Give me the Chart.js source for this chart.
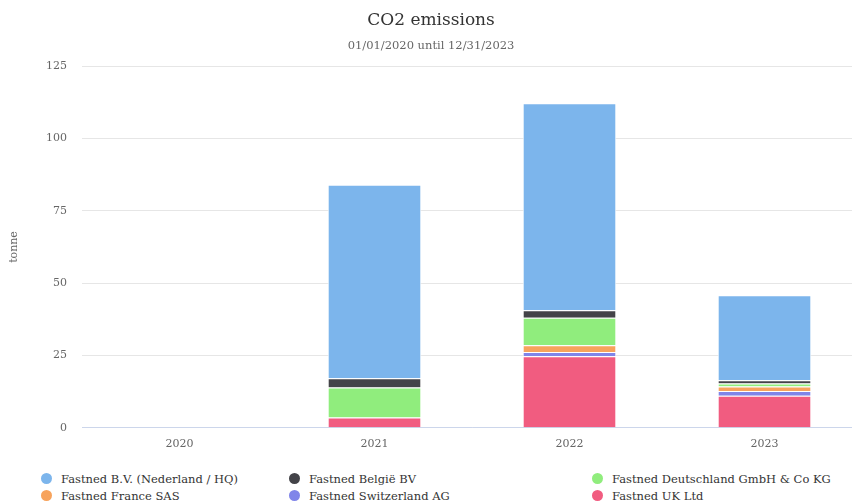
<!DOCTYPE html>
<html>
<head>
<meta charset="utf-8">
<script src="https://cdn.jsdelivr.net/npm/chart.js@4.4.0/dist/chart.umd.min.js"></script>
<style>
    html, body { margin: 0; padding: 0; background: #fff; overflow: hidden; }
    #wrap { position: relative; width: 886px; height: 503px; }
    #chartBox { position: absolute; left: 0; top: 0; width: 886px; height: 471px; }
    #legend { position: absolute; left: 0; top: 471px; width: 886px; font-family: 'DejaVu Serif', Georgia, serif; font-size: 11.5px; color: #333; }
    .item { position: absolute; white-space: nowrap; line-height: 17px; }
    .dot { display: inline-block; width: 11px; height: 11px; border-radius: 50%; margin-right: 9px; vertical-align: -1px; }
</style>
</head>
<body>
<div id="wrap">
    <div id="chartBox"><canvas id="co2Chart"></canvas></div>
    <div id="legend"></div>
</div>
<script>
// 年份
const years = ['2020', '2021', '2022', '2023'];

// 各公司排放量 (tonne)
const nederland = [0, 66.9, 71.6, 29.4];
const belgie = [0, 3.2, 2.6, 1.1];
const deutschland = [0, 10.3, 9.5, 1.0];
const france = [0, 0, 2.3, 1.6];
const switzerland = [0, 0, 1.5, 1.6];
const uk = [0, 3.6, 24.7, 11.1];

const yTicks = [0, 25, 50, 75, 100, 125];

const serif = "'DejaVu Serif', Georgia, serif";

// 从下往上堆叠
const datasets = [
    { label: 'Fastned UK Ltd', data: uk, backgroundColor: '#f15c80' },
    { label: 'Fastned Switzerland AG', data: switzerland, backgroundColor: '#8085e9' },
    { label: 'Fastned France SAS', data: france, backgroundColor: '#f7a35c' },
    { label: 'Fastned Deutschland GmbH & Co KG', data: deutschland, backgroundColor: '#90ed7d' },
    { label: 'Fastned België BV', data: belgie, backgroundColor: '#434348' },
    { label: 'Fastned B.V. (Nederland / HQ)', data: nederland, backgroundColor: '#7cb5ec' }
];
datasets.forEach(ds => {
    ds.borderColor = '#ffffff';
    ds.borderWidth = 1;
    ds.barPercentage = 1;
    ds.categoryPercentage = 0.48;
});

const chart = new Chart(document.getElementById('co2Chart'), {
    type: 'bar',
    data: { labels: years, datasets: datasets },
    options: {
        responsive: true,
        maintainAspectRatio: false,
        animation: false,
        layout: { padding: { left: 0, right: 24, bottom: 10 } },
        plugins: {
            legend: { display: false },
            tooltip: { enabled: false },
            title: {
                display: true,
                text: 'CO2 emissions',
                color: '#333333',
                font: { family: serif, size: 17, weight: 'normal' },
                padding: { top: 10, bottom: 9 }
            },
            subtitle: {
                display: true,
                text: '01/01/2020 until 12/31/2023',
                color: '#666666',
                font: { family: serif, size: 11.5, weight: 'normal' },
                padding: { top: 0, bottom: 13 }
            }
        },
        scales: {
            x: {
                stacked: true,
                grid: { display: false, drawTicks: false },
                border: { display: true, color: '#ccd6eb' },
                ticks: { color: '#666666', font: { family: serif, size: 11 }, padding: 10 }
            },
            y: {
                stacked: true,
                min: 0,
                max: 125,
                afterBuildTicks: scale => { scale.ticks = yTicks.map(v => ({ value: v })); },
                afterFit: scale => { scale.width = 82; },
                grid: { color: '#e6e6e6', drawTicks: false },
                border: { display: false },
                ticks: { color: '#666666', font: { family: serif, size: 11 }, padding: 15 },
                title: {
                    display: true,
                    text: 'tonne',
                    color: '#666666',
                    font: { family: serif, size: 11 },
                    padding: { top: 8, bottom: 0 }
                }
            }
        }
    }
});

// 图例 (三列)
const legendOrder = datasets.slice().reverse();
const colX = [41, 289, 592];
const legendEl = document.getElementById('legend');
legendOrder.forEach((ds, i) => {
    const el = document.createElement('div');
    el.className = 'item';
    el.style.left = colX[i % 3] + 'px';
    el.style.top = (Math.floor(i / 3) * 17) + 'px';
    el.innerHTML = '<span class="dot" style="background:' + ds.backgroundColor + '"></span>';
    el.appendChild(document.createTextNode(ds.label));
    legendEl.appendChild(el);
});
</script>
</body>
</html>
